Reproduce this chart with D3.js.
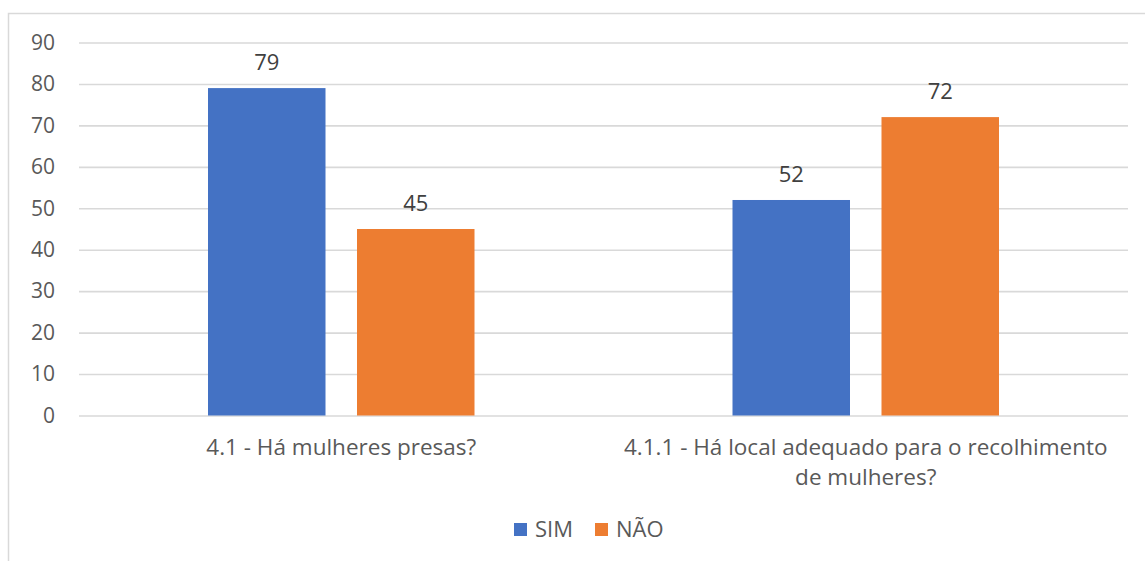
<!DOCTYPE html>
<html>
<head>
<meta charset="utf-8">
<script src="https://cdn.jsdelivr.net/npm/d3@7"></script>
<style>
  html, body { margin: 0; padding: 0; background: #fff; }
  svg { display: block; }
  text { font-family: "Open Sans", "Liberation Sans", sans-serif; }
</style>
</head>
<body>
<svg id="chart" width="1145" height="561"></svg>
<script>
// Survey answers per question
const categories = [
  ["4.1 - Há mulheres presas?"],
  ["4.1.1 - Há local adequado para o recolhimento", "de mulheres?"]
];
const seriesNames = ["SIM", "NÃO"];
const simValues = [79, 52];
const naoValues = [45, 72];
const yTicks = [0, 10, 20, 30, 40, 50, 60, 70, 80, 90];
const colors = ["#4472C4", "#ED7D31"];

const svg = d3.select("#chart");
const W = 1145, H = 561;

// outer chart frame
svg.append("rect")
  .attr("x", 8.5).attr("y", 13.5)
  .attr("width", W + 10).attr("height", H + 10)
  .attr("fill", "#fff").attr("stroke", "#d9d9d9").attr("stroke-width", 1.5);

const plot = { left: 79, right: 1128, top: 42.5, bottom: 415.5 };

const x0 = d3.scaleBand()
  .domain(d3.range(categories.length))
  .range([plot.left, plot.right]);

const y = d3.scaleLinear().domain([0, 90]).range([plot.bottom, plot.top]);

// horizontal gridlines with tick labels
const yAxis = d3.axisLeft(y)
  .tickValues(yTicks)
  .tickSize(-(plot.right - plot.left))
  .tickPadding(24)
  .tickFormat(d3.format("d"));

const gy = svg.append("g")
  .attr("transform", `translate(${plot.left},0)`)
  .call(yAxis);
gy.select(".domain").remove();
gy.selectAll(".tick line").attr("stroke", "#d9d9d9").attr("stroke-width", 1.6);
gy.selectAll(".tick text")
  .attr("fill", "#595959")
  .attr("font-size", 21)
  .attr("font-family", "'Open Sans', 'Liberation Sans', sans-serif");

// bars, grouped by question
const data = categories.map((c, i) => ({
  i,
  values: [
    { key: seriesNames[0], value: simValues[i], color: colors[0] },
    { key: seriesNames[1], value: naoValues[i], color: colors[1] }
  ]
}));

// inner band layout: bars sit centred in each group
const barW = 117.5, gap = 31.5;
const groups = svg.append("g").selectAll("g")
  .data(data).join("g")
  .attr("transform", d => {
    const center = x0(d.i) + x0.bandwidth() / 2;
    return `translate(${center - barW - gap / 2},0)`;
  });

const inner = d3.scaleBand().domain(seriesNames).range([0, 2 * barW + gap]).paddingInner(gap / (barW + gap));

groups.selectAll("rect")
  .data(d => d.values).join("rect")
  .attr("x", d => inner(d.key))
  .attr("y", d => y(d.value))
  .attr("width", inner.bandwidth())
  .attr("height", d => y(0) - y(d.value))
  .attr("fill", d => d.color);

groups.selectAll("text.val")
  .data(d => d.values).join("text")
  .attr("class", "val")
  .attr("x", d => inner(d.key) + inner.bandwidth() / 2)
  .attr("y", d => y(d.value) - 18)
  .attr("text-anchor", "middle")
  .attr("fill", "#404040")
  .attr("font-size", 22)
  .text(d => d.value);

// category labels under the axis
const catG = svg.append("g");
categories.forEach((lines, i) => {
  const cx = x0(i) + x0.bandwidth() / 2;
  const t = catG.append("text")
    .attr("text-anchor", "middle")
    .attr("fill", "#595959")
    .attr("font-size", 22.5);
  lines.forEach((ln, k) => {
    t.append("tspan")
      .attr("x", cx)
      .attr("y", 455 + k * 30)
      .text(ln);
  });
});

// legend
const legend = svg.append("g").attr("transform", "translate(514,537)");
const legX = [0, 81];
seriesNames.forEach((name, i) => {
  const g = legend.append("g").attr("transform", `translate(${legX[i]},0)`);
  g.append("rect").attr("x", 0).attr("y", -14).attr("width", 13).attr("height", 13).attr("fill", colors[i]);
  g.append("text").attr("x", 21).attr("y", 0)
    .attr("fill", "#595959").attr("font-size", 22).text(name);
});
</script>
</body>
</html>
